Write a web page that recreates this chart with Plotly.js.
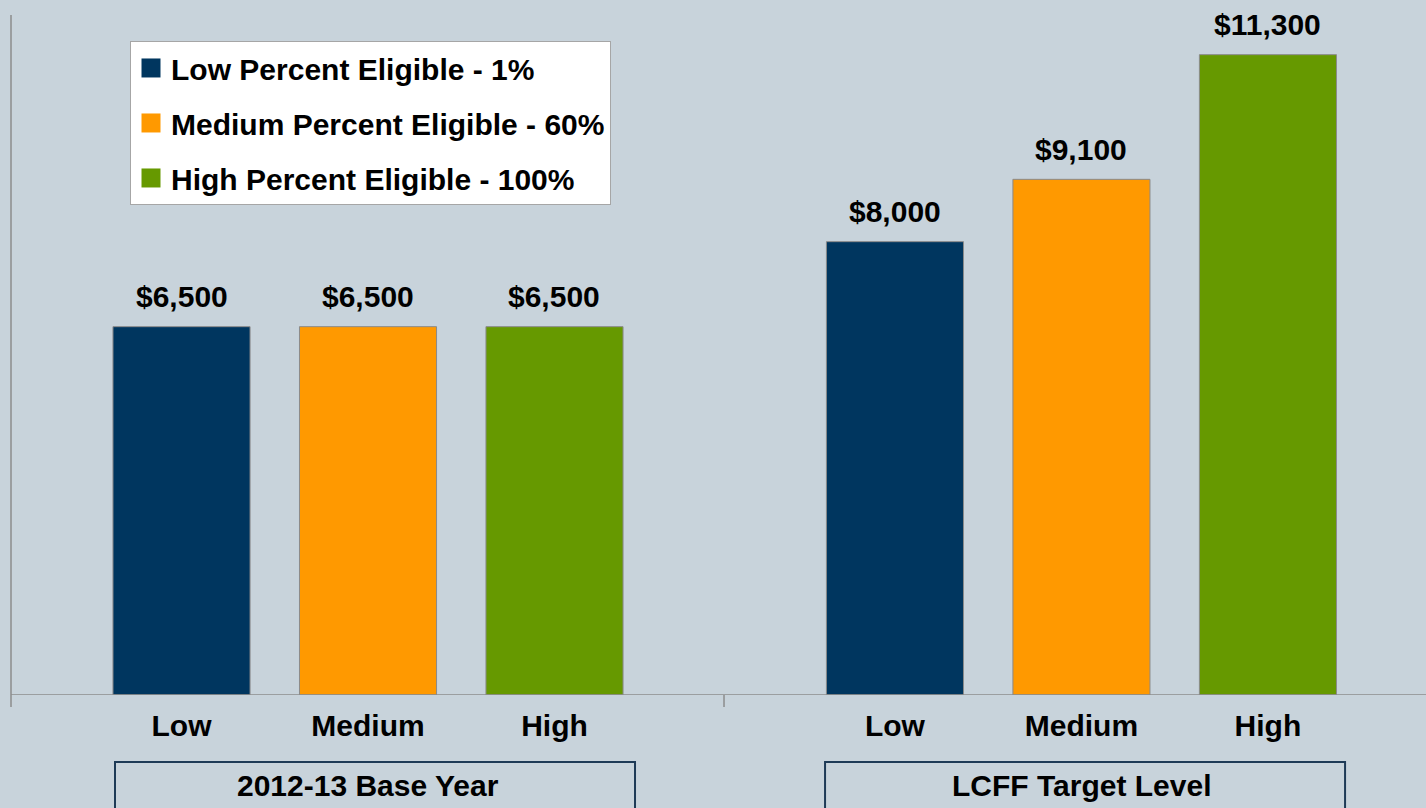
<!DOCTYPE html>
<html>
<head>
<meta charset="utf-8">
<script src="https://cdn.plot.ly/plotly-3.0.1.min.js"></script>
<style>
  html, body { margin: 0; padding: 0; background: #C8D3DB; }
  #chart { width: 1426px; height: 808px; }
</style>
</head>
<body>
<div id="chart"></div>
<script>
// ---- Data ----
const groups = ['2012-13 Base Year', 'LCFF Target Level'];
const categories = ['Low', 'Medium', 'High'];
const seriesNames = ['Low Percent Eligible - 1%', 'Medium Percent Eligible - 60%', 'High Percent Eligible - 100%'];
const baseYearValues = [6500, 6500, 6500];
const targetLevelValues = [8000, 9100, 11300];

// ---- Styling ----
const groupValues = [baseYearValues, targetLevelValues];
const colors = ['#00365F', '#FF9900', '#669900'];
const axisIds = ['x', 'x2'];
const FONT = 'Liberation Sans, Arial, Helvetica, sans-serif';
const bg = '#C8D3DB';
const lineGrey = '#8C8C8C';

const traces = [];
for (let s = 0; s < seriesNames.length; s++) {
  for (let g = 0; g < groups.length; g++) {
    traces.push({
      type: 'bar',
      name: seriesNames[s],
      legendgroup: 's' + s,
      showlegend: g === 0,
      x: [categories[s]],
      y: [groupValues[g][s]],
      xaxis: axisIds[g],
      yaxis: 'y',
      marker: { color: colors[s], line: { color: '#8A8A8A', width: 1 } },
      hoverinfo: 'skip'
    });
  }
}

const annotations = [];
for (let g = 0; g < groups.length; g++) {
  for (let s = 0; s < categories.length; s++) {
    annotations.push({
      xref: axisIds[g], yref: 'y',
      x: categories[s], y: groupValues[g][s],
      text: '$' + groupValues[g][s].toLocaleString('en-US'),
      showarrow: false, yanchor: 'middle', yshift: 30,
      font: { family: FONT, size: 30, color: '#000', weight: 700 }
    });
  }
}

const dom1 = [0.0546, 0.4500];
const dom2 = [0.5588, 0.9542];
const doms = [dom1, dom2];
const boxes = [[0.0735, 0.4410], [0.5753, 0.9428]];

for (let g = 0; g < groups.length; g++) {
  annotations.push({
    xref: 'paper', yref: 'paper',
    x: (doms[g][0] + doms[g][1]) / 2, y: -0.1324,
    text: groups[g], showarrow: false, xanchor: 'center', yanchor: 'middle',
    font: { family: FONT, size: 30, color: '#000', weight: 700 }
  });
}

const shapes = [
  { type: 'line', xref: 'paper', yref: 'paper', x0: 0, x1: 0, y0: 1, y1: -0.0176, line: { color: lineGrey, width: 1.5 } },
  { type: 'line', xref: 'paper', yref: 'y', x0: 0, x1: 1, y0: 0, y1: 0, line: { color: lineGrey, width: 1.5 } },
  { type: 'line', xref: 'paper', yref: 'paper', x0: 0.5039, x1: 0.5039, y0: 0, y1: -0.0176, line: { color: lineGrey, width: 1.5 } }
];
boxes.forEach(b => {
  shapes.push({ type: 'rect', xref: 'paper', yref: 'paper', x0: b[0], x1: b[1], y0: -0.0985, y1: -0.2,
    line: { color: '#1E3A56', width: 2 }, fillcolor: 'rgba(0,0,0,0)' });
});

const xaxisBase = {
  type: 'category', categoryorder: 'array', categoryarray: categories,
  range: [-0.5, 2.5], showline: false, showgrid: false, zeroline: false,
  ticks: '', ticklabelstandoff: 10, anchor: 'y', fixedrange: true,
  tickfont: { family: FONT, size: 30, color: '#000', weight: 700 }
};

const layout = {
  width: 1426, height: 808,
  margin: { l: 11, r: 0, t: 15, b: 113 },
  paper_bgcolor: bg, plot_bgcolor: bg,
  barmode: 'overlay', bargap: 0.265,
  showlegend: true,
  legend: {
    x: 0.0841, y: 0.9618, xanchor: 'left', yanchor: 'top',
    bgcolor: '#FFFFFF', bordercolor: '#A6A6A6', borderwidth: 1,
    traceorder: 'grouped', tracegroupgap: 13,
    font: { family: FONT, size: 30, color: '#000', weight: 700 }
  },
  xaxis: Object.assign({}, xaxisBase, { domain: dom1 }),
  xaxis2: Object.assign({}, xaxisBase, { domain: dom2 }),
  yaxis: { range: [0, 12000], anchor: 'free', position: 0, showline: false, showgrid: false,
    zeroline: false, showticklabels: false, ticks: '', fixedrange: true },
  annotations: annotations,
  shapes: shapes
};

function enlargeLegendSwatches() {
  document.querySelectorAll('#chart g.legendpoints path').forEach(p => {
    p.setAttribute('d', 'M9.5,9.5H-9.5V-9.5H9.5Z');
    p.style.strokeWidth = '0px';
  });
}

const gd = document.getElementById('chart');
Plotly.newPlot(gd, traces, layout, { displayModeBar: false, staticPlot: true }).then(() => {
  enlargeLegendSwatches();
  setTimeout(enlargeLegendSwatches, 50);
});
gd.on && gd.on('plotly_afterplot', enlargeLegendSwatches);
</script>
</body>
</html>
